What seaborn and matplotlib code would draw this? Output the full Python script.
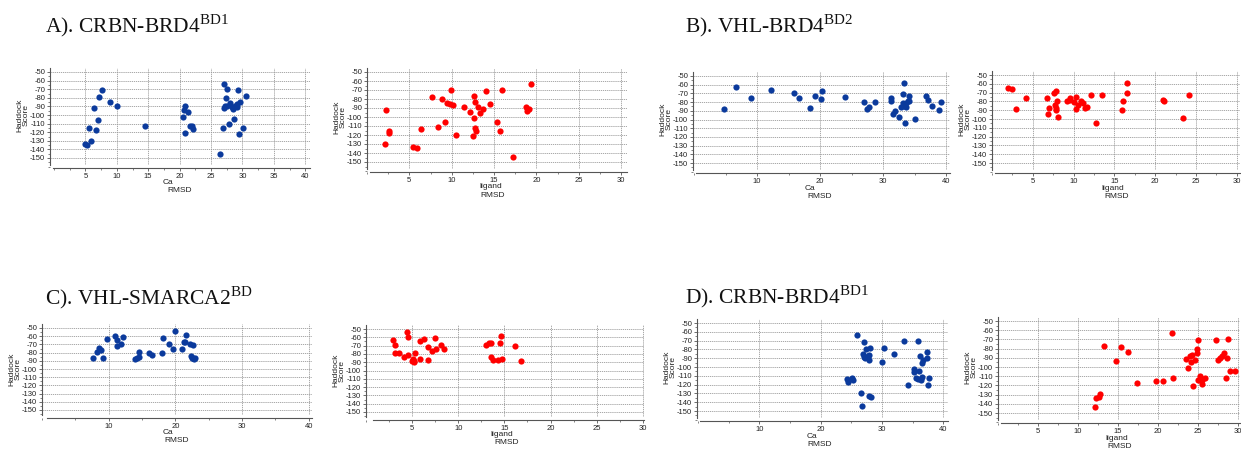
import numpy as np
import pandas as pd
import matplotlib
matplotlib.use("Agg")
import matplotlib.pyplot as plt
from matplotlib.ticker import MultipleLocator
import seaborn as sns

# ---------- DATA ----------
# A) CRBN-BRD4 BD1
a_ca_x = [5.0, 5.2, 5.5, 5.9, 6.3, 6.7, 7.0, 7.2, 7.6, 8.9, 10.0, 14.5, 20.9, 20.7, 21.3, 20.5,
          20.8, 21.6, 21.9, 22.2, 26.5, 27.1, 27.4, 27.6, 26.9, 27.0, 27.5, 28.0, 28.3, 28.5,
          28.8, 28.6, 27.8, 29.3, 29.2, 29.6, 30.5, 30.1, 29.4, 27.3, 29.1]
a_ca_y = [-134, -135, -115, -130, -92, -118, -106, -79, -71, -85, -90, -113, -89, -94, -97, -102,
          -121, -113, -113, -116, -145, -64, -80, -70, -115, -92, -90, -86, -91, -93,
          -90, -105, -111, -71, -87, -85, -78, -115, -122, -90, -91]
a_lig_x = [2.3, 2.1, 2.6, 2.6, 5.4, 5.9, 6.4, 8.4, 9.2, 7.7, 8.9, 9.4, 9.8, 10.1, 9.9, 10.5,
           11.5, 12.2, 12.6, 12.8, 12.6, 12.8, 12.9, 12.5, 13.1, 13.7, 13.4, 14.0, 14.5, 15.3,
           16.0, 15.7, 17.2, 18.8, 18.9, 19.1, 19.4]
a_lig_y = [-92, -130, -115, -118, -133, -134, -113, -111, -105, -78, -80, -84, -85, -87, -70, -120,
           -89, -94, -77, -83, -101, -112, -115, -121, -89, -91, -96, -71, -85, -105,
           -70, -115, -144, -89, -93, -91, -63]

# B) VHL-BRD4 BD2
b_ca_x = [4.8, 6.6, 9.1, 12.3, 15.9, 16.7, 18.4, 19.2, 20.3, 20.2, 24.0, 27.0, 27.5, 27.8, 28.7,
          31.2, 31.2, 31.6, 31.9, 32.5, 32.8, 33.1, 33.2, 33.3, 33.4, 33.6, 33.7, 33.9, 34.1,
          34.2, 33.5, 35.0, 36.8, 37.1, 37.7, 38.9, 39.2]
b_ca_y = [-88, -63, -75, -66, -69, -75, -87, -73, -67, -77, -74, -80, -88, -86, -80,
          -75, -79, -94, -90, -97, -86, -81, -71, -58, -84, -81, -86, -79, -73,
          -79, -104, -99, -73, -78, -84, -89, -80]
b_lig_x = [2.0, 2.4, 3.0, 4.2, 6.8, 6.9, 7.0, 7.6, 7.8, 7.7, 7.8, 7.9, 8.0, 8.1, 9.2, 9.5, 9.6,
           10.0, 10.3, 10.3, 10.6, 10.9, 11.1, 11.4, 11.7, 12.1, 12.7, 13.5, 15.9, 16.0, 16.5,
           16.6, 21.0, 21.1, 23.4, 24.1]
b_lig_y = [-65, -66, -89, -76, -76, -94, -88, -70, -68, -84, -88, -90, -80, -98, -79, -78, -76,
           -81, -75, -89, -84, -80, -82, -87, -86, -73, -104, -73, -90, -80, -71,
           -59, -78, -79, -99, -73]

# C) VHL-SMARCA2 BD
c_ca_x = [7.7, 8.2, 8.6, 8.9, 9.2, 9.8, 11.0, 11.2, 11.3, 11.9, 12.2, 14.0, 14.2, 14.5, 14.6,
          16.0, 16.5, 18.0, 18.2, 19.1, 20.0, 19.6, 21.3, 21.5, 21.0, 21.6, 22.2, 22.6, 22.3,
          22.5, 22.8, 23.0, 22.6]
c_ca_y = [-86, -79, -74, -77, -87, -63, -60, -72, -65, -69, -61, -88, -86, -79, -85,
          -81, -83, -80, -62, -70, -54, -75, -67, -67, -75, -59, -69, -71, -84,
          -86, -88, -87, -86]
c_lig_x = [2.9, 3.1, 3.1, 3.6, 4.1, 4.4, 4.5, 4.5, 5.0, 5.1, 5.25, 5.3, 5.25, 5.8, 5.9, 6.3,
           6.7, 6.75, 7.1, 7.5, 7.6, 8.1, 8.4, 13.0, 13.3, 13.5, 13.6, 13.8, 14.3, 14.5, 14.6,
           14.7, 16.1, 16.8]
c_lig_y = [-63, -69, -79, -79, -84, -54, -60, -81, -89, -86, -88, -79, -90, -86, -65, -62,
           -72, -87, -77, -61, -74, -69, -74, -69, -67, -67, -84, -87, -87, -67, -59,
           -86, -71, -88]

# D) CRBN-BRD4 BD1
d_ca_x = [24.3, 24.5, 25.1, 25.3, 26.0, 26.6, 26.8, 27.0, 26.9, 27.0, 27.3, 27.4, 27.7, 27.9,
          27.9, 28.1, 27.9, 28.3, 30.4, 30.0, 31.9, 33.6, 35.9, 34.3, 35.2, 35.2, 36.1, 36.2,
          36.5, 36.7, 37.3, 37.4, 37.7, 37.6, 35.5, 35.9, 36.3, 36.6]
d_ca_y = [-114, -117, -112, -115, -64, -130, -144, -72, -85, -89, -90, -80, -88, -86,
          -92, -78, -133, -134, -78, -94, -85, -71, -70, -121, -102, -106, -105, -88,
          -96, -92, -83, -90, -112, -120, -113, -114, -115, -111]
d_lig_x = [12.1, 12.3, 12.6, 12.8, 13.3, 14.7, 15.4, 16.2, 17.4, 19.7, 20.6, 21.9, 21.7, 23.5,
           23.8, 24.0, 24.1, 24.3, 24.4, 24.6, 24.9, 24.9, 25.0, 25.0, 25.2, 25.3, 25.5, 25.5,
           25.9, 27.3, 27.5, 27.7, 28.0, 28.2, 28.6, 28.5, 28.7, 29.0, 29.6]
d_lig_y = [-144, -134, -133, -129, -77, -94, -78, -84, -117, -115, -115, -112, -63, -91,
           -101, -88, -95, -87, -121, -92, -85, -80, -71, -114, -114, -110, -114, -119,
           -112, -71, -92, -90, -88, -85, -90, -112, -70, -104, -104]

titles = ["A). CRBN-BRD4$^{\\mathrm{BD1}}$", "B). VHL-BRD4$^{\\mathrm{BD2}}$",
          "C). VHL-SMARCA2$^{\\mathrm{BD}}$", "D). CRBN-BRD4$^{\\mathrm{BD1}}$"]
y_ticks = list(range(-150, -49, 10))

BLUE = "#0B3A9C"
RED = "#FF0000"

# ---------- LAYOUT (pixels) ----------
W, H = 1241, 449
# (data, L, R, T, B, x0px, px/unit x, px of -50, px/unit y, major, minor, grid, label, lx1, lx2)
panels = [
    ((a_ca_x, a_ca_y, BLUE), 50, 310, 68, 168, 54, 6.28, 72, 0.86, 5, 2.5, 5, "Ca", 168, 180),
    ((a_lig_x, a_lig_y, RED), 367, 627, 68, 172, 366.6, 8.48, 72, 0.90, 5, 2.5, 5, "ligand", 491, 493),
    ((b_ca_x, b_ca_y, BLUE), 693, 950, 72, 173, 694, 6.3, 76, 0.87, 10, 5, 10, "Ca", 810, 820),
    ((b_lig_x, b_lig_y, RED), 992, 1240, 71, 173, 992, 8.16, 75, 0.88, 5, 2.5, 5, "ligand", 1113, 1117),
    ((c_ca_x, c_ca_y, BLUE), 42, 312, 324, 418, 40, 6.72, 328, 0.82, 10, 5, 10, "Ca", 168, 177),
    ((c_lig_x, c_lig_y, RED), 366, 644, 325, 420, 362, 9.36, 329, 0.83, 5, 2.5, 5, "ligand", 502, 507),
    ((d_ca_x, d_ca_y, BLUE), 697, 948, 319, 421, 698, 6.13, 323, 0.88, 10, 5, 10, "Ca", 812, 820),
    ((d_lig_x, d_lig_y, RED), 998, 1240, 317, 423, 998, 8.0, 321, 0.92, 5, 2.5, 5, "ligand", 1117, 1120),
]
title_pos = [(45, 32), (685, 32), (45, 304), (685, 303)]

sns.set_theme(style="white")
plt.rcParams["font.family"] = ["Liberation Sans", "DejaVu Sans"]
plt.rcParams["axes.unicode_minus"] = False
plt.rcParams["mathtext.fontset"] = "custom"
plt.rcParams["mathtext.rm"] = "Liberation Serif"


def fx(px):
    return px / W


def fy(py):
    return 1 - py / H


fig = plt.figure(figsize=(W / 100, H / 100), dpi=100)

for (xs, ys, col), L, R, T, B, x0, sx, y50, sy, major, minor, gstep, lab, lx1, lx2 in panels:
    ax = fig.add_axes([fx(L), fy(B), (R - L) / W, (B - T) / H])
    df = pd.DataFrame({"x": xs, "y": ys})
    sns.scatterplot(data=df, x="x", y="y", ax=ax, color=col, s=20, linewidth=0, zorder=3)
    xlo, xhi = (L - x0) / sx, (R - x0) / sx
    ytop = -50 + (y50 - T) / sy
    ybot = -50 - (B - y50) / sy
    ax.set_xlim(xlo, xhi)
    ax.set_ylim(ybot, ytop)
    ax.set_xlabel("")
    ax.set_ylabel("")
    ax.set_yticks(y_ticks)
    ax.yaxis.set_minor_locator(MultipleLocator(5))
    for s in ["top", "right"]:
        ax.spines[s].set_visible(False)
    for s in ["left", "bottom"]:
        ax.spines[s].set_color("#555555")
        ax.spines[s].set_linewidth(0.8)
    ax.spines["left"].set_bounds(ybot + 3 / sy, ytop)
    ax.spines["bottom"].set_bounds(xlo + 3 / sx, xhi)
    ax.tick_params(axis="both", which="major", direction="out", length=2.5, width=0.6,
                   color="#555555", labelsize=5.5, pad=1, labelcolor="#222222",
                   left=True, bottom=True)
    ax.tick_params(axis="both", which="minor", direction="out", length=1.5, width=0.5,
                   color="#555555", left=True, bottom=True)
    ax.set_xticks(np.arange(major, xhi + 0.01, major))
    ax.set_xticks(np.arange(0, xhi + 0.01, minor), minor=True)
    for yv in y_ticks:
        ax.axhline(yv, color="#9a9a9a", lw=0.6, ls=(0, (1.5, 1)), zorder=1)
    for xv in np.arange(gstep, xhi + 0.01, gstep):
        ax.plot([xv, xv], [ybot + 4 / sy, ytop], color="#9a9a9a", lw=0.6,
                ls=(0, (1.5, 1)), zorder=1)
    ax.set_facecolor("white")

    # axis labels, two lines like the JMP export
    fig.text(fx(lx1), fy(B + 15), lab, ha="center", va="center", fontsize=6, color="#222222")
    fig.text(fx(lx2), fy(B + 23), "RMSD", ha="center", va="center", fontsize=6, color="#222222")
    fig.text(fx(L - 27), fy(y50 + 50 * sy), "Haddock\nScore", rotation=90, ha="center",
             va="center", fontsize=6, linespacing=0.85, color="#222222")

for t, (tx, ty) in zip(titles, title_pos):
    fig.text(fx(tx), fy(ty), t, ha="left", va="baseline", fontsize=15.5,
             family="Liberation Serif", color="#111111")

fig.savefig("out.png", dpi=100, facecolor="white")
